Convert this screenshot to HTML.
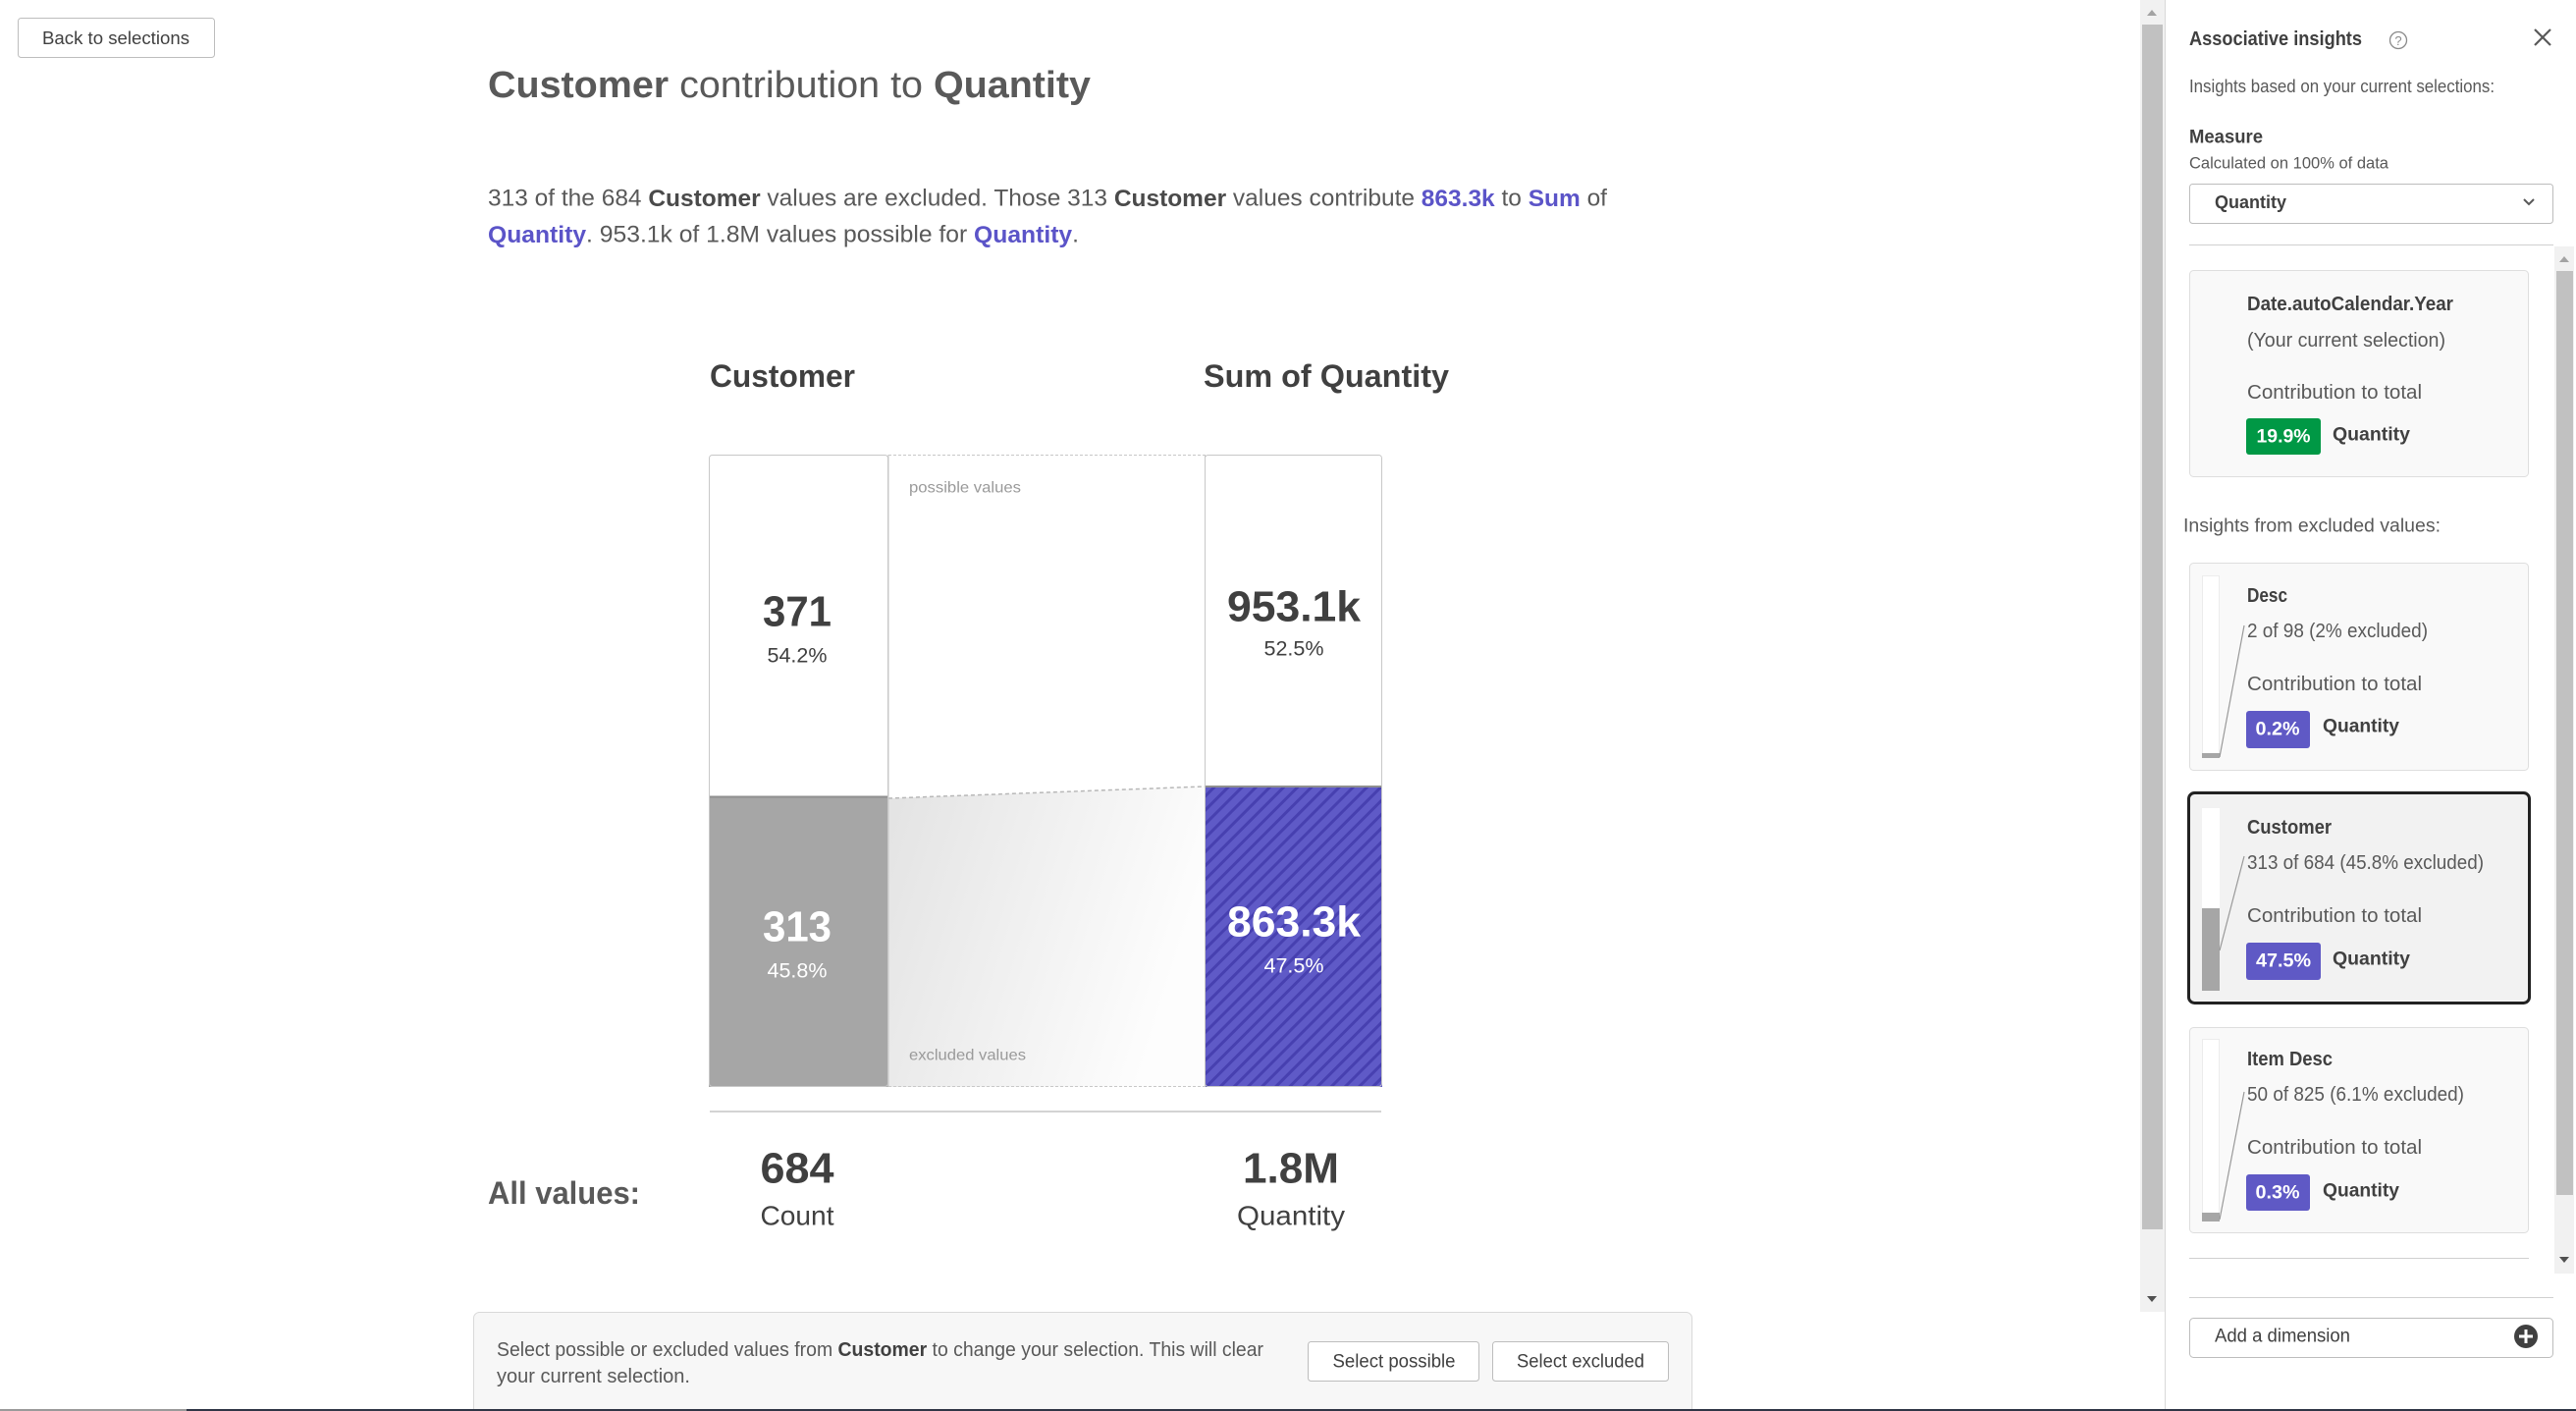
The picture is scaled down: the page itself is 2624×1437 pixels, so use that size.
<!DOCTYPE html>
<html><head><meta charset="utf-8"><style>html,body{margin:0;padding:0;background:#fff;overflow:hidden}svg{display:block}</style></head>
<body>
<svg width="2624" height="1437" viewBox="0 0 2624 1437" xmlns="http://www.w3.org/2000/svg" font-family="'Liberation Sans', sans-serif">
<defs>
<pattern id="hatch" patternUnits="userSpaceOnUse" width="10" height="10" patternTransform="rotate(45)">
<rect width="10" height="10" fill="#5f5ac7"/><rect x="0" y="0" width="3" height="10" fill="#4740b0"/>
</pattern>
<linearGradient id="exg" x1="0" y1="0" x2="1" y2="0.3">
<stop offset="0" stop-color="#e3e3e3"/><stop offset="1" stop-color="#fdfdfd"/>
</linearGradient>
</defs>
<rect width="2624" height="1437" fill="#fff"/>

<!-- Back button -->
<rect x="18.5" y="18.5" width="200" height="40" rx="3" fill="#fff" stroke="#bdbdbd"/>
<text x="118" y="39" text-anchor="middle" dominant-baseline="central" font-size="18" fill="#404040" textLength="150" lengthAdjust="spacingAndGlyphs">Back to selections</text>

<!-- Title -->
<text x="497" y="87" dominant-baseline="central" font-size="38" fill="#595959" textLength="614" lengthAdjust="spacingAndGlyphs"><tspan font-weight="bold">Customer</tspan> contribution to <tspan font-weight="bold">Quantity</tspan></text>

<!-- Paragraph -->
<text x="497" y="202" dominant-baseline="central" font-size="24" fill="#595959" textLength="1140" lengthAdjust="spacingAndGlyphs">313 of the 684 <tspan font-weight="bold" fill="#4a4a4a">Customer</tspan> values are excluded. Those 313 <tspan font-weight="bold" fill="#4a4a4a">Customer</tspan> values contribute <tspan font-weight="bold" fill="#5b54c8">863.3k</tspan> to <tspan font-weight="bold" fill="#5b54c8">Sum</tspan> of</text>
<text x="497" y="239" dominant-baseline="central" font-size="24" fill="#595959" textLength="602" lengthAdjust="spacingAndGlyphs"><tspan font-weight="bold" fill="#5b54c8">Quantity</tspan>. 953.1k of 1.8M values possible for <tspan font-weight="bold" fill="#5b54c8">Quantity</tspan>.</text>

<!-- Chart headers -->
<text x="723" y="383" dominant-baseline="central" font-size="32" font-weight="bold" fill="#404040" textLength="148" lengthAdjust="spacingAndGlyphs">Customer</text>
<text x="1226" y="383" dominant-baseline="central" font-size="32" font-weight="bold" fill="#404040" textLength="250" lengthAdjust="spacingAndGlyphs">Sum of Quantity</text>

<!-- Chart body -->
<rect x="722" y="463" width="183" height="348" fill="#fff"/>
<rect x="722" y="811" width="183" height="296" fill="#a6a6a6"/>
<line x1="722" y1="811.5" x2="905" y2="811.5" stroke="#8f8f8f" stroke-width="2"/>
<rect x="1227" y="463" width="181" height="338" fill="#fff"/>
<rect x="1227" y="801" width="181" height="306" fill="url(#hatch)"/>
<line x1="1227" y1="801" x2="1408" y2="801" stroke="#8f8f8f" stroke-width="2"/>
<polygon points="905,813 1227,801 1227,1107 905,1107" fill="url(#exg)"/>
<line x1="905" y1="813" x2="1227" y2="801" stroke="#b8b8b8" stroke-width="1.5" stroke-dasharray="4 3"/>
<line x1="905" y1="463.5" x2="1227" y2="463.5" stroke="#c8c8c8" stroke-width="1" stroke-dasharray="3 2"/>
<line x1="905" y1="1106.5" x2="1227" y2="1106.5" stroke="#c8c8c8" stroke-width="1" stroke-dasharray="3 2"/>
<rect x="722.5" y="463.5" width="182" height="643" rx="3" fill="none" stroke="#c8c8c8"/>
<rect x="1227.5" y="463.5" width="180" height="643" rx="3" fill="none" stroke="#c8c8c8"/>
<line x1="905" y1="463" x2="905" y2="1107" stroke="#c8c8c8"/>
<line x1="1227.5" y1="463" x2="1227.5" y2="1107" stroke="#c8c8c8"/>

<text x="926" y="497" dominant-baseline="central" font-size="16" fill="#9a9a9a" textLength="114" lengthAdjust="spacingAndGlyphs">possible values</text>
<text x="926" y="1075" dominant-baseline="central" font-size="16" fill="#9a9a9a" textLength="119" lengthAdjust="spacingAndGlyphs">excluded values</text>

<text x="812" y="623" text-anchor="middle" dominant-baseline="central" font-size="44" font-weight="bold" fill="#404040" textLength="70" lengthAdjust="spacingAndGlyphs">371</text>
<text x="812" y="668" text-anchor="middle" dominant-baseline="central" font-size="21" fill="#404040" textLength="61" lengthAdjust="spacingAndGlyphs">54.2%</text>
<text x="1318" y="618" text-anchor="middle" dominant-baseline="central" font-size="44" font-weight="bold" fill="#404040" textLength="136" lengthAdjust="spacingAndGlyphs">953.1k</text>
<text x="1318" y="661" text-anchor="middle" dominant-baseline="central" font-size="21" fill="#404040" textLength="61" lengthAdjust="spacingAndGlyphs">52.5%</text>
<text x="812" y="944" text-anchor="middle" dominant-baseline="central" font-size="44" font-weight="bold" fill="#fff" textLength="70" lengthAdjust="spacingAndGlyphs">313</text>
<text x="812" y="989" text-anchor="middle" dominant-baseline="central" font-size="21" fill="#fff" textLength="61" lengthAdjust="spacingAndGlyphs">45.8%</text>
<text x="1318" y="939" text-anchor="middle" dominant-baseline="central" font-size="44" font-weight="bold" fill="#fff" textLength="136" lengthAdjust="spacingAndGlyphs">863.3k</text>
<text x="1318" y="984" text-anchor="middle" dominant-baseline="central" font-size="21" fill="#fff" textLength="61" lengthAdjust="spacingAndGlyphs">47.5%</text>

<!-- separator & all values -->
<line x1="723" y1="1132" x2="1407" y2="1132" stroke="#d4d4d4" stroke-width="2"/>
<text x="497" y="1215" dominant-baseline="central" font-size="32" font-weight="bold" fill="#595959" textLength="155" lengthAdjust="spacingAndGlyphs">All values:</text>
<text x="812" y="1190" text-anchor="middle" dominant-baseline="central" font-size="44" font-weight="bold" fill="#404040" textLength="75" lengthAdjust="spacingAndGlyphs">684</text>
<text x="812" y="1238" text-anchor="middle" dominant-baseline="central" font-size="28" fill="#404040" textLength="75" lengthAdjust="spacingAndGlyphs">Count</text>
<text x="1315" y="1190" text-anchor="middle" dominant-baseline="central" font-size="44" font-weight="bold" fill="#404040" textLength="98" lengthAdjust="spacingAndGlyphs">1.8M</text>
<text x="1315" y="1238" text-anchor="middle" dominant-baseline="central" font-size="28" fill="#404040" textLength="110" lengthAdjust="spacingAndGlyphs">Quantity</text>

<!-- bottom box -->
<rect x="482.5" y="1336.5" width="1241" height="130" rx="6" fill="#f7f7f7" stroke="#d9d9d9"/>
<text x="506" y="1375" dominant-baseline="central" font-size="20" fill="#595959" textLength="781" lengthAdjust="spacingAndGlyphs">Select possible or excluded values from <tspan font-weight="bold" fill="#404040">Customer</tspan> to change your selection. This will clear</text>
<text x="506" y="1402" dominant-baseline="central" font-size="20" fill="#595959" textLength="197" lengthAdjust="spacingAndGlyphs">your current selection.</text>
<rect x="1332.5" y="1366.5" width="174" height="40" rx="3" fill="#fff" stroke="#bdbdbd"/>
<text x="1420" y="1387" text-anchor="middle" dominant-baseline="central" font-size="19" fill="#404040" textLength="125" lengthAdjust="spacingAndGlyphs">Select possible</text>
<rect x="1520.5" y="1366.5" width="179" height="40" rx="3" fill="#fff" stroke="#bdbdbd"/>
<text x="1610" y="1387" text-anchor="middle" dominant-baseline="central" font-size="19" fill="#404040" textLength="130" lengthAdjust="spacingAndGlyphs">Select excluded</text>

<!-- main scrollbar -->
<rect x="2180" y="0" width="25" height="1336" fill="#f1f1f1"/>
<rect x="2182" y="25" width="21" height="1227" fill="#c1c1c1"/>
<polygon points="2187,16 2197,16 2192,10" fill="#a3a3a3"/>
<polygon points="2187,1320 2197,1320 2192,1326" fill="#505050"/>

<!-- panel -->
<line x1="2205.5" y1="0" x2="2205.5" y2="1437" stroke="#d9d9d9"/>
<text x="2230" y="40" dominant-baseline="central" font-size="20" font-weight="bold" fill="#404040" textLength="176" lengthAdjust="spacingAndGlyphs">Associative insights</text>
<circle cx="2443" cy="41" r="8.5" fill="none" stroke="#8a8a8a" stroke-width="1.3"/>
<text x="2443" y="41.5" text-anchor="middle" dominant-baseline="central" font-size="13" fill="#8a8a8a">?</text>
<line x1="2582" y1="30" x2="2598" y2="46" stroke="#595959" stroke-width="2.2"/>
<line x1="2598" y1="30" x2="2582" y2="46" stroke="#595959" stroke-width="2.2"/>
<text x="2230" y="88" dominant-baseline="central" font-size="18" fill="#595959" textLength="311" lengthAdjust="spacingAndGlyphs">Insights based on your current selections:</text>
<text x="2230" y="140" dominant-baseline="central" font-size="19" font-weight="bold" fill="#404040" textLength="75" lengthAdjust="spacingAndGlyphs">Measure</text>
<text x="2230" y="166" dominant-baseline="central" font-size="17" fill="#595959" textLength="203" lengthAdjust="spacingAndGlyphs">Calculated on 100% of data</text>
<rect x="2230.5" y="187.5" width="370" height="40" rx="3" fill="#fff" stroke="#bdbdbd"/>
<text x="2256" y="206" dominant-baseline="central" font-size="18" font-weight="bold" fill="#404040" textLength="73" lengthAdjust="spacingAndGlyphs">Quantity</text>
<polyline points="2571,203 2576,208 2581,203" fill="none" stroke="#595959" stroke-width="2"/>
<line x1="2230" y1="249.5" x2="2601" y2="249.5" stroke="#d0d0d0"/>

<!-- inner scrollbar -->
<rect x="2602" y="251" width="20" height="1046" fill="#f1f1f1"/>
<rect x="2604" y="276" width="17" height="941" fill="#c1c1c1"/>
<polygon points="2607,267 2617,267 2612,261" fill="#a3a3a3"/>
<polygon points="2607,1280 2617,1280 2612,1286" fill="#505050"/>

<!-- card 1 -->
<rect x="2230.5" y="275.5" width="345" height="210" rx="4" fill="#f9f9f9" stroke="#dedede"/>
<text x="2289" y="310" dominant-baseline="central" font-size="20" font-weight="bold" fill="#404040" textLength="210" lengthAdjust="spacingAndGlyphs">Date.autoCalendar.Year</text>
<text x="2289" y="347" dominant-baseline="central" font-size="20" fill="#595959" textLength="202" lengthAdjust="spacingAndGlyphs">(Your current selection)</text>
<text x="2289" y="400" dominant-baseline="central" font-size="20" fill="#595959" textLength="178" lengthAdjust="spacingAndGlyphs">Contribution to total</text>
<rect x="2288" y="426" width="76" height="37" rx="3" fill="#009845"/>
<text x="2326" y="445" text-anchor="middle" dominant-baseline="central" font-size="19" font-weight="bold" fill="#fff" textLength="55" lengthAdjust="spacingAndGlyphs">19.9%</text>
<text x="2376" y="443" dominant-baseline="central" font-size="19" font-weight="bold" fill="#404040" textLength="79" lengthAdjust="spacingAndGlyphs">Quantity</text>

<text x="2224" y="536" dominant-baseline="central" font-size="19" fill="#595959" textLength="262" lengthAdjust="spacingAndGlyphs">Insights from excluded values:</text>

<!-- card 2 -->
<rect x="2230.5" y="573.5" width="345" height="211" rx="4" fill="#f9f9f9" stroke="#dedede"/>
<rect x="2243.5" y="586.5" width="17" height="185" fill="#fff" stroke="#ececec"/>
<rect x="2243" y="767" width="18" height="5" fill="#a6a6a6"/>
<line x1="2261" y1="771" x2="2286" y2="637" stroke="#999" stroke-width="1.2"/>
<text x="2289" y="607" dominant-baseline="central" font-size="20" font-weight="bold" fill="#404040" textLength="41" lengthAdjust="spacingAndGlyphs">Desc</text>
<text x="2289" y="643" dominant-baseline="central" font-size="20" fill="#595959" textLength="184" lengthAdjust="spacingAndGlyphs">2 of 98 (2% excluded)</text>
<text x="2289" y="697" dominant-baseline="central" font-size="20" fill="#595959" textLength="178" lengthAdjust="spacingAndGlyphs">Contribution to total</text>
<rect x="2288" y="724" width="65" height="38" rx="3" fill="#5f59c5"/>
<text x="2320" y="743" text-anchor="middle" dominant-baseline="central" font-size="19" font-weight="bold" fill="#fff" textLength="45" lengthAdjust="spacingAndGlyphs">0.2%</text>
<text x="2366" y="740" dominant-baseline="central" font-size="19" font-weight="bold" fill="#404040" textLength="78" lengthAdjust="spacingAndGlyphs">Quantity</text>

<!-- card 3 (selected) -->
<rect x="2229.5" y="807.5" width="347" height="214" rx="6" fill="#f2f2f2" stroke="#222" stroke-width="3"/>
<rect x="2243" y="823" width="18" height="102" fill="#fff"/>
<rect x="2243" y="925" width="18" height="84" fill="#a6a6a6"/>
<line x1="2261" y1="968" x2="2286" y2="872" stroke="#999" stroke-width="1.2"/>
<text x="2289" y="843" dominant-baseline="central" font-size="20" font-weight="bold" fill="#404040" textLength="86" lengthAdjust="spacingAndGlyphs">Customer</text>
<text x="2289" y="879" dominant-baseline="central" font-size="20" fill="#595959" textLength="241" lengthAdjust="spacingAndGlyphs">313 of 684 (45.8% excluded)</text>
<text x="2289" y="933" dominant-baseline="central" font-size="20" fill="#595959" textLength="178" lengthAdjust="spacingAndGlyphs">Contribution to total</text>
<rect x="2288" y="960" width="76" height="38" rx="3" fill="#5f59c5"/>
<text x="2326" y="979" text-anchor="middle" dominant-baseline="central" font-size="19" font-weight="bold" fill="#fff" textLength="56" lengthAdjust="spacingAndGlyphs">47.5%</text>
<text x="2376" y="977" dominant-baseline="central" font-size="19" font-weight="bold" fill="#404040" textLength="79" lengthAdjust="spacingAndGlyphs">Quantity</text>

<!-- card 4 -->
<rect x="2230.5" y="1046.5" width="345" height="209" rx="4" fill="#f9f9f9" stroke="#dedede"/>
<rect x="2243.5" y="1058.5" width="17" height="185" fill="#fff" stroke="#ececec"/>
<rect x="2243" y="1235" width="18" height="9" fill="#a6a6a6"/>
<line x1="2261" y1="1242" x2="2286" y2="1112" stroke="#999" stroke-width="1.2"/>
<text x="2289" y="1079" dominant-baseline="central" font-size="20" font-weight="bold" fill="#404040" textLength="87" lengthAdjust="spacingAndGlyphs">Item Desc</text>
<text x="2289" y="1115" dominant-baseline="central" font-size="20" fill="#595959" textLength="221" lengthAdjust="spacingAndGlyphs">50 of 825 (6.1% excluded)</text>
<text x="2289" y="1169" dominant-baseline="central" font-size="20" fill="#595959" textLength="178" lengthAdjust="spacingAndGlyphs">Contribution to total</text>
<rect x="2288" y="1196" width="65" height="37" rx="3" fill="#5f59c5"/>
<text x="2320" y="1215" text-anchor="middle" dominant-baseline="central" font-size="19" font-weight="bold" fill="#fff" textLength="45" lengthAdjust="spacingAndGlyphs">0.3%</text>
<text x="2366" y="1213" dominant-baseline="central" font-size="19" font-weight="bold" fill="#404040" textLength="78" lengthAdjust="spacingAndGlyphs">Quantity</text>

<line x1="2230" y1="1281.5" x2="2576" y2="1281.5" stroke="#d0d0d0"/>
<line x1="2230" y1="1321.5" x2="2601" y2="1321.5" stroke="#d0d0d0"/>

<!-- add dimension -->
<rect x="2230.5" y="1342.5" width="370" height="40" rx="4" fill="#fff" stroke="#bdbdbd"/>
<text x="2256" y="1361" dominant-baseline="central" font-size="19" fill="#404040" textLength="138" lengthAdjust="spacingAndGlyphs">Add a dimension</text>
<circle cx="2573" cy="1361" r="12" fill="#404040"/>
<line x1="2566" y1="1361" x2="2580" y2="1361" stroke="#fff" stroke-width="3"/>
<line x1="2573" y1="1354" x2="2573" y2="1368" stroke="#fff" stroke-width="3"/>

<!-- bottom edge -->
<rect x="0" y="1435" width="190" height="2" fill="#9a9a9a"/>
<rect x="190" y="1435" width="2434" height="2" fill="#2f3545"/>
</svg>
</body></html>
